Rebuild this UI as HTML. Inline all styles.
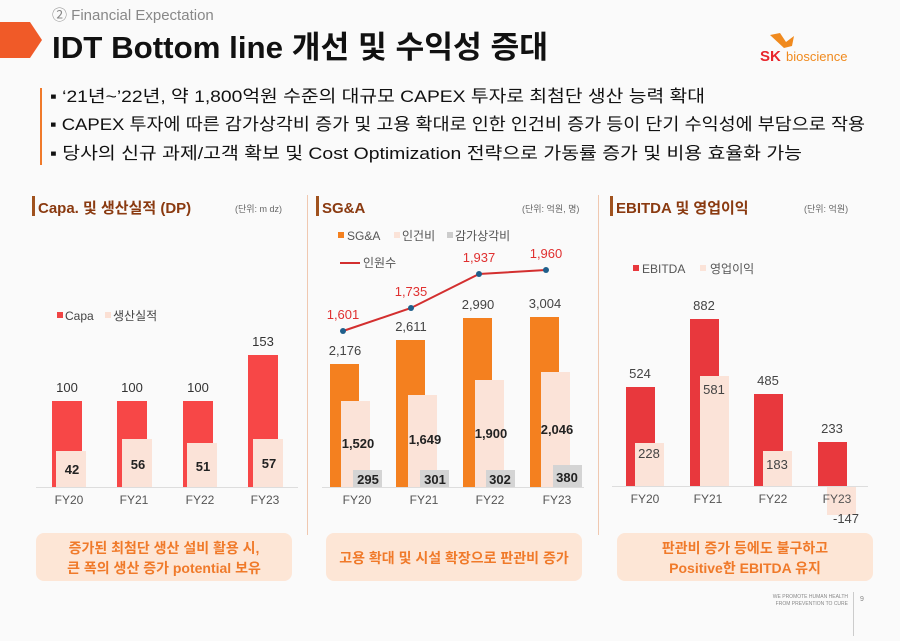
<!DOCTYPE html>
<html><head><meta charset="utf-8"><style>
body{margin:0;width:900px;height:636px;overflow:hidden;background:#fafafa;font-family:"Liberation Sans","Noto Sans CJK KR",sans-serif}
</style></head><body>
<svg width="900" height="636" viewBox="0 0 900 636" xmlns="http://www.w3.org/2000/svg" font-family="Liberation Sans, Noto Sans CJK KR, sans-serif">
<rect width="900" height="636" fill="#fafafa"/>
<!-- header -->
<polygon points="0,22 30,22 42,40 30,58 0,58" fill="#f05a28"/>
<text x="52" y="20" font-size="15" fill="#888">② Financial Expectation</text>
<text x="52" y="58" font-size="31" font-weight="bold" fill="#111" textLength="496" lengthAdjust="spacingAndGlyphs">IDT Bottom line 개선 및 수익성 증대</text>
<text x="760" y="61" font-size="15" font-weight="bold" fill="#e8262c">SK</text>
<text x="786" y="61" font-size="13" fill="#f08a1e">bioscience</text>
<path d="M770 35 L780 33 L786 42 L794 36 L792 46 L784 48 Z" fill="#f08a1e"/>
<rect x="40" y="88" width="2" height="77" fill="#f07a2a"/>
<g font-size="17" fill="#111">
<text x="50" y="102" textLength="655" lengthAdjust="spacingAndGlyphs">▪ ‘21년~’22년, 약 1,800억원 수준의 대규모 CAPEX 투자로 최첨단 생산 능력 확대</text>
<text x="50" y="130" textLength="815" lengthAdjust="spacingAndGlyphs">▪ CAPEX 투자에 따른 감가상각비 증가 및 고용 확대로 인한 인건비 증가 등이 단기 수익성에 부담으로 작용</text>
<text x="50" y="159" textLength="752" lengthAdjust="spacingAndGlyphs">▪ 당사의 신규 과제/고객 확보 및 Cost Optimization 전략으로 가동률 증가 및 비용 효율화 가능</text>
</g>
<!-- separators -->
<rect x="307" y="195" width="1" height="340" fill="#f0c8b0"/>
<rect x="598" y="195" width="1" height="340" fill="#f0c8b0"/>
<!-- panel titles -->
<rect x="32" y="196" width="3" height="20" fill="#a0521e"/>
<text x="38" y="213" font-size="15" font-weight="bold" fill="#8a3a10">Capa. 및 생산실적 (DP)</text>
<text x="235" y="212" font-size="9" fill="#666">(단위: m dz)</text>
<rect x="316" y="196" width="3" height="20" fill="#a0521e"/>
<text x="322" y="213" font-size="15" font-weight="bold" fill="#8a3a10">SG&amp;A</text>
<text x="522" y="212" font-size="9" fill="#666">(단위: 억원, 명)</text>
<rect x="610" y="196" width="3" height="20" fill="#a0521e"/>
<text x="616" y="213" font-size="15" font-weight="bold" fill="#8a3a10">EBITDA 및 영업이익</text>
<text x="804" y="212" font-size="9" fill="#666">(단위: 억원)</text>

<!-- Panel 1 -->
<g font-size="12" fill="#444">
<rect x="57" y="312" width="6" height="6" fill="#f04545"/><text x="65" y="320">Capa</text>
<rect x="105" y="312" width="6" height="6" fill="#fbe0d4"/><text x="113" y="320">생산실적</text>
</g>
<rect x="36" y="487" width="262" height="1" fill="#ddd"/>
<g fill="#f74747">
<rect x="52" y="401" width="30" height="86"/><rect x="117" y="401" width="30" height="86"/>
<rect x="183" y="401" width="30" height="86"/><rect x="248" y="355" width="30" height="132"/>
</g>
<g fill="#fbe3d8">
<rect x="56" y="451" width="30" height="36"/><rect x="122" y="439" width="30" height="48"/>
<rect x="187" y="443" width="30" height="44"/><rect x="253" y="439" width="30" height="48"/>
</g>
<g font-size="13" fill="#333" text-anchor="middle">
<text x="67" y="392">100</text><text x="132" y="392">100</text><text x="198" y="392">100</text><text x="263" y="346">153</text>
<g font-weight="bold" fill="#222"><text x="72" y="474">42</text><text x="138" y="469">56</text><text x="203" y="471">51</text><text x="269" y="468">57</text></g>
<g font-size="12" fill="#555"><text x="69" y="504">FY20</text><text x="134" y="504">FY21</text><text x="200" y="504">FY22</text><text x="265" y="504">FY23</text></g>
</g>

<!-- Panel 2 -->
<g font-size="12" fill="#555">
<rect x="338" y="232" width="6" height="6" fill="#f4801f"/><text x="347" y="240">SG&amp;A</text>
<rect x="394" y="232" width="6" height="6" fill="#fbe3d8"/><text x="402" y="240">인건비</text>
<rect x="447" y="232" width="6" height="6" fill="#ccc"/><text x="455" y="240">감가상각비</text>
<rect x="340" y="262" width="20" height="2" fill="#d32f2f"/><text x="363" y="267">인원수</text>
</g>
<rect x="322" y="487" width="262" height="1" fill="#ddd"/>
<g fill="#f4801f">
<rect x="330" y="364" width="29" height="123"/><rect x="396" y="340" width="29" height="147"/>
<rect x="463" y="318" width="29" height="169"/><rect x="530" y="317" width="29" height="170"/>
</g>
<g fill="#fbe3d8">
<rect x="341" y="401" width="29" height="86"/><rect x="408" y="395" width="29" height="92"/>
<rect x="475" y="380" width="29" height="107"/><rect x="541" y="372" width="29" height="115"/>
</g>
<g fill="#d4d4d4">
<rect x="353" y="470" width="29" height="17"/><rect x="420" y="470" width="29" height="17"/>
<rect x="486" y="470" width="29" height="17"/><rect x="553" y="465" width="29" height="22"/>
</g>
<polyline points="343,331 411,308 479,274 546,270" fill="none" stroke="#d32f2f" stroke-width="2"/>
<g fill="#1f5f8b"><circle cx="343" cy="331" r="3"/><circle cx="411" cy="308" r="3"/><circle cx="479" cy="274" r="3"/><circle cx="546" cy="270" r="3"/></g>
<g font-size="13" text-anchor="middle">
<g fill="#e03030"><text x="343" y="319">1,601</text><text x="411" y="296">1,735</text><text x="479" y="262">1,937</text><text x="546" y="258">1,960</text></g>
<g fill="#444"><text x="345" y="355">2,176</text><text x="411" y="331">2,611</text><text x="478" y="309">2,990</text><text x="545" y="308">3,004</text></g>
<g fill="#222" font-weight="bold"><text x="358" y="448">1,520</text><text x="425" y="444">1,649</text><text x="491" y="438">1,900</text><text x="557" y="434">2,046</text>
<text x="368" y="484">295</text><text x="435" y="484">301</text><text x="500" y="484">302</text><text x="567" y="482">380</text></g>
<g font-size="12" fill="#555"><text x="357" y="504">FY20</text><text x="424" y="504">FY21</text><text x="490" y="504">FY22</text><text x="557" y="504">FY23</text></g>
</g>

<!-- Panel 3 -->
<g font-size="12" fill="#555">
<rect x="633" y="265" width="6" height="6" fill="#e8383d"/><text x="642" y="273">EBITDA</text>
<rect x="700" y="265" width="6" height="6" fill="#fbe3d8"/><text x="710" y="273">영업이익</text>
</g>
<rect x="612" y="486" width="256" height="1" fill="#ddd"/>
<g fill="#e8383d">
<rect x="626" y="387" width="29" height="99"/><rect x="690" y="319" width="29" height="167"/>
<rect x="754" y="394" width="29" height="92"/><rect x="818" y="442" width="29" height="44"/>
</g>
<g fill="#fbe3d8">
<rect x="635" y="443" width="29" height="43"/><rect x="700" y="376" width="29" height="110"/>
<rect x="763" y="451" width="29" height="35"/><rect x="827" y="487" width="29" height="28"/>
</g>
<g font-size="13" text-anchor="middle" fill="#444">
<text x="640" y="378">524</text><text x="704" y="310">882</text><text x="768" y="385">485</text><text x="832" y="433">233</text>
<text x="649" y="458">228</text><text x="714" y="394">581</text><text x="777" y="469">183</text><text x="846" y="523">-147</text>
<g font-size="12" fill="#555"><text x="645" y="503">FY20</text><text x="708" y="503">FY21</text><text x="773" y="503">FY22</text><text x="837" y="503">FY23</text></g>
</g>

<!-- bottom boxes -->
<g fill="#fde6d6"><rect x="36" y="533" width="256" height="48" rx="8"/><rect x="326" y="533" width="256" height="48" rx="8"/><rect x="617" y="533" width="256" height="48" rx="8"/></g>
<g font-size="14" font-weight="bold" fill="#f07a2a" text-anchor="middle">
<text x="164" y="553">증가된 최첨단 생산 설비 활용 시,</text><text x="164" y="573">큰 폭의 생산 증가 potential 보유</text>
<text x="454" y="563">고용 확대 및 시설 확장으로 판관비 증가</text>
<text x="745" y="553">판관비 증가 등에도 불구하고</text><text x="745" y="573">Positive한 EBITDA 유지</text>
</g>
<g font-size="5" fill="#888" text-anchor="end"><text x="848" y="598">WE PROMOTE HUMAN HEALTH</text><text x="848" y="605">FROM PREVENTION TO CURE</text></g>
<rect x="853" y="592" width="1" height="44" fill="#ccc"/>
<text x="860" y="601" font-size="7" fill="#888">9</text>
</svg>
</body></html>
